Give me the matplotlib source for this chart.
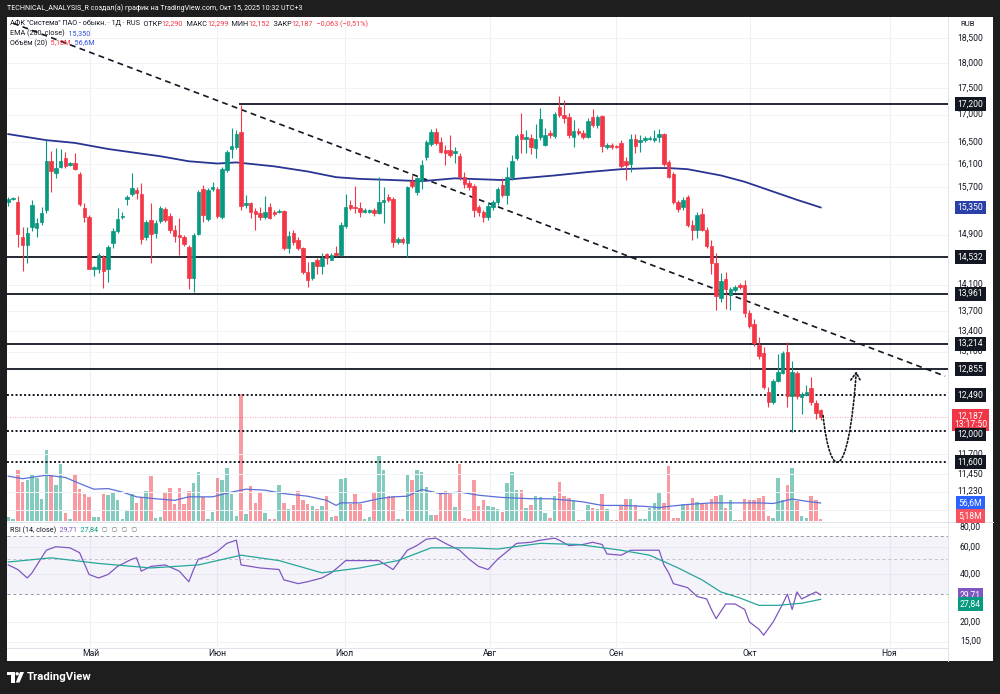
import matplotlib
matplotlib.use("Agg")
import matplotlib.pyplot as plt
import numpy as np
from matplotlib.patches import Rectangle, Polygon, Ellipse, FancyArrowPatch
from matplotlib.path import Path
from matplotlib.lines import Line2D

plt.rcParams['font.family'] = ['Roboto', 'DejaVu Sans']

# ---------------- data ----------------
opens = [15.45, 15.50, 15.45, 14.86, 14.73, 15.03, 15.00, 15.11, 15.31, 16.15,
         15.95, 16.05, 16.21, 16.08, 16.12, 15.93, 15.34, 15.19, 14.34, 14.34,
         14.53, 14.35, 14.76, 14.96, 15.19, 15.50, 15.58, 15.65, 15.58, 14.86,
         15.14, 14.93, 15.12, 15.33, 15.21, 14.98, 14.89, 14.86, 14.70, 14.21,
         14.91, 15.67, 15.16, 15.67, 15.67, 15.19, 16.00, 16.37, 16.41, 16.68,
         15.40, 15.43, 15.29, 15.26, 15.19, 15.36, 15.28, 15.28, 15.29, 14.68,
         14.93, 14.81, 14.68, 14.30, 14.21, 14.49, 14.40, 14.58, 14.49, 14.60,
         14.57, 15.04, 15.40, 15.36, 15.34, 15.28, 15.28, 15.31, 15.26, 15.45,
         15.53, 15.50, 14.78, 14.83, 14.76, 15.80, 15.62, 15.80, 16.22, 16.46,
         16.68, 16.50, 16.35, 16.35, 16.30, 16.24, 15.87, 15.77, 15.72, 15.36,
         15.28, 15.19, 15.36, 15.45, 15.74, 15.57, 15.87, 16.21, 16.64, 16.55,
         16.57, 16.39, 16.58, 16.45, 16.66, 16.61, 17.14, 16.99, 16.96, 16.59,
         16.70, 16.66, 16.59, 16.96, 16.81, 16.97, 16.41, 16.44, 16.43, 16.48,
         16.15, 16.11, 16.55, 16.50, 16.53, 16.55, 16.53, 16.59, 16.64, 16.13,
         15.92, 15.45, 15.36, 15.53, 15.06, 14.98, 15.24, 14.98, 14.71, 14.44,
         13.90, 14.19, 13.94, 14.01, 14.09, 14.10, 13.67, 13.50, 13.19, 13.08,
         12.53, 12.39, 12.68, 12.79, 13.09, 12.47, 12.79, 12.46, 12.49, 12.58,
         12.38, 12.290]
highs = [15.53, 15.53, 15.55, 15.03, 15.03, 15.48, 15.17, 15.36, 16.53, 16.33,
         16.39, 16.37, 16.32, 16.13, 16.30, 15.96, 15.43, 15.22, 14.40, 14.60,
         14.57, 14.73, 15.00, 15.34, 15.28, 15.57, 15.95, 15.70, 15.77, 15.14,
         15.43, 15.14, 15.38, 15.36, 15.26, 15.05, 15.17, 14.89, 14.73, 14.93,
         15.65, 15.74, 15.68, 15.79, 15.70, 16.05, 16.35, 16.75, 16.72, 17.18,
         15.57, 15.45, 15.34, 15.36, 15.55, 15.43, 15.31, 15.33, 15.31, 14.95,
         14.98, 14.86, 14.70, 14.45, 14.46, 14.52, 14.60, 14.60, 14.60, 14.71,
         15.11, 15.58, 15.48, 15.72, 15.45, 15.34, 15.33, 15.34, 15.87, 15.70,
         15.58, 15.52, 14.86, 14.86, 15.72, 15.91, 15.87, 16.17, 16.53, 16.74,
         16.76, 16.59, 16.44, 16.63, 16.41, 16.30, 15.96, 15.82, 15.75, 15.40,
         15.31, 15.45, 15.48, 15.70, 15.86, 16.05, 16.26, 16.64, 17.03, 16.72,
         16.64, 16.83, 17.12, 16.76, 16.72, 17.05, 17.35, 17.28, 17.03, 16.90,
         16.75, 16.72, 16.94, 17.11, 17.00, 17.00, 16.48, 16.48, 16.45, 16.53,
         16.22, 16.64, 16.64, 16.62, 16.60, 16.60, 16.72, 16.74, 16.66, 16.17,
         15.96, 15.48, 15.53, 15.57, 15.14, 15.28, 15.34, 15.03, 14.81, 14.60,
         14.29, 14.30, 14.07, 14.09, 14.12, 14.18, 13.72, 13.57, 13.31, 13.17,
         12.60, 12.71, 13.06, 13.11, 13.24, 12.97, 12.82, 12.53, 12.63, 12.74,
         12.42, 12.299]
lows = [15.38, 15.48, 14.70, 14.31, 14.44, 14.95, 14.86, 15.06, 15.26, 15.62,
        15.86, 16.03, 16.03, 16.07, 16.00, 15.38, 15.11, 14.34, 14.23, 14.28,
        14.05, 14.14, 14.68, 14.93, 15.16, 15.40, 15.55, 15.50, 14.75, 14.81,
        14.44, 14.85, 15.09, 15.11, 14.93, 14.78, 14.57, 14.71, 14.03, 13.98,
        14.90, 15.11, 15.13, 15.63, 15.18, 15.16, 15.96, 16.21, 16.37, 15.31,
        15.34, 15.17, 14.98, 15.14, 15.16, 15.16, 15.21, 15.26, 14.65, 14.60,
        14.73, 14.65, 14.27, 14.06, 14.18, 14.27, 14.27, 14.43, 14.48, 14.55,
        14.55, 15.01, 15.31, 15.26, 15.19, 15.26, 15.26, 15.21, 15.24, 15.09,
        15.45, 14.70, 14.75, 14.75, 14.53, 15.68, 15.57, 15.67, 16.17, 16.43,
        16.45, 16.30, 16.08, 16.22, 16.12, 15.82, 15.68, 15.65, 15.19, 15.21,
        15.11, 15.14, 15.31, 15.40, 15.53, 15.41, 15.82, 16.17, 16.30, 16.30,
        16.28, 16.21, 16.53, 16.43, 16.57, 16.57, 16.96, 16.84, 16.57, 16.41,
        16.62, 16.55, 16.57, 16.77, 16.75, 16.32, 16.37, 16.37, 16.39, 16.03,
        15.82, 15.96, 16.30, 16.32, 16.50, 16.53, 16.50, 16.50, 16.07, 15.85,
        15.41, 15.28, 15.31, 15.03, 14.81, 14.85, 14.95, 14.68, 14.27, 13.72,
        13.84, 13.73, 13.72, 13.98, 14.04, 13.61, 13.45, 13.18, 12.99, 12.57,
        12.33, 12.36, 12.67, 12.78, 12.33, 11.99, 12.43, 12.23, 12.48, 12.35,
        12.16, 12.152]
closes = [15.50, 15.51, 14.91, 14.73, 14.93, 15.40, 15.09, 15.26, 16.15, 15.98,
          16.03, 16.15, 16.07, 16.12, 16.02, 15.41, 15.19, 14.35, 14.37, 14.57,
          14.31, 14.70, 14.96, 15.16, 15.21, 15.53, 15.68, 15.60, 14.83, 15.11,
          14.91, 15.09, 15.34, 15.14, 14.98, 14.88, 14.86, 14.75, 14.21, 14.89,
          15.62, 15.22, 15.65, 15.70, 15.21, 16.01, 16.31, 16.43, 16.64, 15.38,
          15.43, 15.28, 15.24, 15.19, 15.28, 15.17, 15.24, 15.29, 14.68, 14.88,
          14.78, 14.68, 14.30, 14.18, 14.45, 14.40, 14.52, 14.52, 14.57, 14.57,
          15.06, 15.36, 15.34, 15.34, 15.28, 15.31, 15.31, 15.26, 15.45, 15.48,
          15.48, 14.78, 14.83, 14.78, 15.70, 15.72, 15.85, 16.09, 16.50, 16.67,
          16.48, 16.32, 16.30, 16.26, 16.33, 15.87, 15.75, 15.70, 15.31, 15.28,
          15.19, 15.38, 15.45, 15.67, 15.57, 15.87, 16.15, 16.60, 16.55, 16.59,
          16.40, 16.55, 16.92, 16.63, 16.63, 17.01, 16.99, 16.94, 16.62, 16.70,
          16.66, 16.59, 16.88, 16.81, 16.96, 16.43, 16.44, 16.41, 16.41, 16.07,
          16.09, 16.55, 16.43, 16.53, 16.57, 16.57, 16.57, 16.64, 16.11, 15.87,
          15.45, 15.33, 15.48, 15.06, 14.98, 15.22, 14.98, 14.71, 14.44, 13.92,
          14.16, 14.03, 14.03, 14.06, 14.07, 13.66, 13.48, 13.22, 13.03, 12.60,
          12.39, 12.68, 12.81, 13.08, 12.47, 12.81, 12.47, 12.50, 12.53, 12.39,
          12.25, 12.187]
volumes = [12.6, 5.3, 161.7, 122.9, 128.1, 146.0, 136.5, 69.3, 222.6, 149.1,
           112.4, 180.6, 25.2, 7.4, 149.1, 101.9, 86.1, 75.6, 12.6, 12.6,
           84.0, 83.0, 90.3, 65.1, 7.4, 31.5, 86.1, 56.7, 75.6, 94.5,
           142.8, 9.5, 12.6, 88.2, 104.0, 54.6, 105.0, 52.5, 94.5, 120.8,
           153.3, 75.6, 7.4, 28.4, 136.5, 128.1, 168.0, 84.0, 14.7, 399.0,
           23.1, 111.3, 56.7, 88.2, 25.2, 6.3, 5.3, 114.5, 56.7, 38.9,
           49.4, 94.5, 66.2, 54.6, 46.2, 38.9, 46.2, 77.7, 12.6, 14.7,
           133.4, 136.5, 52.5, 86.1, 54.6, 5.3, 12.6, 88.2, 205.8, 159.6,
           79.8, 79.8, 7.4, 7.4, 143.9, 128.1, 159.6, 155.4, 107.1, 18.9,
           18.9, 84.0, 94.5, 84.0, 44.1, 178.5, 9.5, 7.4, 130.2, 48.3,
           65.1, 47.3, 44.1, 38.9, 27.3, 119.7, 155.4, 98.7, 96.6, 42.0,
           49.4, 77.7, 75.6, 26.3, 10.5, 77.7, 123.9, 77.7, 73.5, 65.1,
           4.2, 4.2, 49.4, 42.0, 38.9, 84.0, 38.9, 4.2, 4.2, 49.4,
           70.4, 70.4, 49.4, 7.4, 7.4, 42.0, 56.7, 90.3, 56.7, 172.2,
           10.5, 9.5, 54.6, 54.6, 71.4, 60.9, 54.6, 54.6, 70.4, 79.8,
           81.9, 42.0, 67.2, 4.2, 4.2, 70.4, 67.2, 65.1, 73.5, 77.7,
           14.7, 10.5, 134.4, 65.1, 114.5, 165.9, 63.0, 14.7, 10.5, 79.8,
           67.2, 5.18]

vma_x = [0, 3, 8, 12, 15, 18, 21, 24, 27, 31, 35, 38, 43, 47, 50, 54, 58, 63, 67,
         69, 70, 74, 78, 81, 84, 87, 91, 95, 99, 104, 110, 114, 118, 121, 125,
         129, 134, 137, 139, 143, 148, 152, 158, 161, 165, 168, 171]
vma_v = [141, 133, 144, 137, 118, 100, 102, 91, 76, 70, 65, 76, 76, 91, 100, 97, 86,
         78, 65, 49, 57, 57, 70, 76, 78, 99, 86, 91, 81, 74, 70, 70, 65, 60, 49,
         49, 46, 42, 46, 52, 57, 57, 57, 55, 69, 62, 56.6]

ema_x = [0, 8, 14, 21, 26, 32, 38, 44, 48, 56, 63, 69, 74, 81, 87, 94, 104, 108,
         115, 122, 129, 136, 139, 143, 150, 155, 161, 166, 171]
ema_v = [16.64, 16.53, 16.48, 16.37, 16.31, 16.24, 16.15, 16.11, 16.13, 16.06,
         15.97, 15.87, 15.84, 15.82, 15.80, 15.85, 15.82, 15.85, 15.90, 15.96,
         16.01, 16.03, 16.03, 16.01, 15.90, 15.79, 15.62, 15.48, 15.35]

rsi_x = [0, 2, 4, 5, 8, 10, 13, 15, 16, 17, 19, 21, 23, 26, 27, 28, 30, 33, 36,
         38, 39, 40, 42, 44, 46, 48, 49, 51, 53, 57, 58, 61, 63, 66, 68, 70, 71,
         74, 78, 81, 84, 86, 88, 90, 92, 95, 97, 99, 101, 103, 105, 107, 110,
         112, 115, 116, 118, 121, 123, 125, 126, 129, 131, 134, 137, 138, 139,
         140, 143, 145, 147, 148, 149, 151, 153, 155, 156, 158, 159, 161, 163,
         164, 165, 166, 167, 169, 170, 171]
rsi_v = [46, 43, 38, 41, 57, 60, 59, 55, 47, 40, 38, 40, 45, 50, 51, 42, 45, 46, 42,
         36, 43, 50, 52, 56, 63, 66, 46, 45, 44, 43, 37, 35, 36, 38, 41, 46, 49,
         49, 49, 43, 57, 61, 67, 68, 63, 57, 50, 45, 43, 50, 56, 63, 64,
         66, 68, 66, 61, 62, 64, 62, 54, 53, 57, 57, 57, 46, 41,
         35, 33, 29, 28, 24, 21, 26, 26, 24, 20, 18, 16.5, 20, 26,
         30, 24, 31, 28, 30, 31, 29.71]
rsima_x = [0, 9, 19, 30, 40, 49, 57, 66, 74, 82, 89, 97, 103, 112, 120, 129, 135,
           141, 146, 150, 154, 158, 162, 167, 171]
rsima_v = [48, 51, 47, 44, 46, 53, 49, 41, 44, 49, 59, 59, 58, 63, 62, 57, 53,
           44, 37, 31, 28.4, 25.5, 25.5, 26.3, 27.84]

month_labels = ['Май', 'Июн', 'Июл', 'Авг', 'Сен', 'Окт', 'Ноя']
month_pos = [17.3, 43.9, 70.8, 101.4, 128.0, 156.1, 185.5]

price_ticks = [18.5, 18.0, 17.5, 17.0, 16.5, 16.1, 15.7, 14.9, 14.1, 13.7, 13.4,
               13.1, 11.7, 11.45, 11.23, 11.01]
top_level = 17.2
top_level_start = 48.5
solid_levels = [14.532, 13.961, 13.214, 12.855]
dotted_levels = [12.49, 12.0, 11.6]
last_price = 12.187
ema_last = 15.35
vol_last = 5.18
vma_last = 56.6
rsi_last = 29.71
rsima_last = 27.84
rsi_ticks = [80, 60, 40, 20, 15]

trend_x = [1.0, 197.2]
trend_y = [18.80, 12.75]
fc_x = [171.5, 173.0, 176.8, 178.5]
fc_y = [12.21, 11.35, 11.30, 12.82]

# ---------------- figure ----------------
W, H = 1000, 694
GREEN = '#089981'
RED = '#f23645'
DARK = '#131722'
EMA_C = '#283593'
fig = plt.figure(figsize=(W / 100, H / 100), dpi=100, facecolor='#1e1e1e')


def fx(px):
    return px / W


def fy(py):
    return 1 - py / H


fig.add_artist(Rectangle((fx(7), fy(661)), fx(993) - fx(7), fy(17) - fy(661),
                         transform=fig.transFigure, facecolor='white',
                         edgecolor='none', zorder=-10))

L, R = 7, 948
ax = fig.add_axes([fx(L), fy(521), fx(R) - fx(L), fy(17) - fy(521)])
axv = fig.add_axes([fx(L), fy(521), fx(R) - fx(L), fy(17) - fy(521)], sharex=ax)
axr = fig.add_axes([fx(L), fy(647), fx(R) - fx(L), fy(522) - fy(647)], sharex=ax)
axv.set_zorder(1)
ax.set_zorder(2)
axr.set_zorder(1)
ax.patch.set_alpha(0)
axv.patch.set_facecolor('white')
axr.patch.set_facecolor('white')

for a in (ax, axv, axr):
    for s in a.spines.values():
        s.set_visible(False)

ax.set_yscale('log')
axr.set_yscale('log')
for a in (ax, axv, axr):
    a.tick_params(which='both', left=False, right=False, bottom=False, top=False,
                  labelleft=False, labelbottom=False, labelright=False, labeltop=False)

ax.set_xlim(-0.27, 197.8)
ax.set_ylim(10.872, 18.928)
axv.set_ylim(0, 1585)
axr.set_ylim(13.88, 86.06)

# grid
for m in month_pos:
    axv.axvline(m, color='#eef0f5', lw=0.8, zorder=0)
    axr.axvline(m, color='#eef0f5', lw=0.8, zorder=0)
for t in price_ticks:
    ax.axhline(t, color='#f2f3f7', lw=0.7, zorder=0)
for t in rsi_ticks:
    axr.axhline(t, color='#f2f3f7', lw=0.7, zorder=0)

n = len(closes)
idx = np.arange(n)
o = np.array(opens)
c = np.array(closes)
h = np.array(highs)
lo = np.array(lows)
up = c >= o
cols = np.where(up, GREEN, RED)

# volume
vcols = [(8 / 255, 153 / 255, 129 / 255, 0.5) if u else (242 / 255, 54 / 255, 69 / 255, 0.5) for u in up]
axv.bar(idx, volumes, width=0.75, color=vcols, zorder=2)
axv.plot(vma_x, vma_v, color='#5b6fd9', lw=0.9, zorder=3)

# levels
ax.hlines(top_level, top_level_start, 197.8, color=DARK, lw=1.3, zorder=2)
for lv in solid_levels:
    ax.axhline(lv, color=DARK, lw=1.3, zorder=2)
for lv in dotted_levels:
    ax.axhline(lv, color=DARK, lw=1.4, ls=(0, (1, 1.2)), zorder=2)
ax.axhline(last_price, color=RED, lw=0.6, ls=(0, (1, 2)), alpha=0.6, zorder=2)

# trend line
ax.plot(trend_x, trend_y, color=DARK, lw=1.2, ls=(0, (3.5, 2.6)), zorder=2)

# EMA
ax.plot(ema_x, ema_v, color=EMA_C, lw=1.3, zorder=2.5)

# candles
ax.vlines(idx, lo, h, colors=cols, lw=0.8, zorder=3)
ax.bar(idx, np.abs(c - o), bottom=np.minimum(o, c), width=0.72, color=cols,
       edgecolor=cols, linewidth=0.5, zorder=4)

# forecast arrow
fpath = Path(list(zip(fc_x, fc_y)), [Path.MOVETO, Path.CURVE4, Path.CURVE4, Path.CURVE4])
arr = FancyArrowPatch(path=fpath, arrowstyle='->,head_length=0.55,head_width=0.35',
                      mutation_scale=10, lw=1.2, ls=(0, (1, 1.3)), color=DARK, zorder=5)
ax.add_patch(arr)

# RSI
axr.axhspan(30, 70, color='#7e57c2', alpha=0.07, lw=0, zorder=0.5)
for lv, al in ((70, 1.0), (50, 0.55), (30, 1.0)):
    axr.axhline(lv, color='#9598a1', lw=0.7, ls=(0, (3, 3)), alpha=al, zorder=1)
axr.plot(rsi_x, rsi_v, color='#7e57c2', lw=0.9, zorder=3)
axr.plot(rsima_x, rsima_v, color='#26a69a', lw=0.9, zorder=3)

# separators
fig.add_artist(Line2D([fx(7), fx(993)], [fy(521.5), fy(521.5)], transform=fig.transFigure,
                      color='#e0e3eb', lw=0.7, zorder=5))
fig.add_artist(Line2D([fx(948), fx(948)], [fy(17), fy(661)], transform=fig.transFigure,
                      color='#e0e3eb', lw=0.7, zorder=5))
fig.add_artist(Line2D([fx(7), fx(948)], [fy(647.5), fy(647.5)], transform=fig.transFigure,
                      color='#e0e3eb', lw=0.7, zorder=5))

# ---------------- text ----------------
renderer = fig.canvas.get_renderer()
FS = 6.2


def fmt3(v):
    return f"{v:.3f}".replace('.', ',')


def ydisp(a, v):
    return a.transData.transform((0, v))[1]


def rlabel(a, v, s, fc=None, tc=DARK, dy=0.0, fs=FS, ls=1.0, z=10):
    kw = dict(fontsize=fs, ha='center', va='center', color=tc, linespacing=ls, zorder=z)
    if fc:
        kw['bbox'] = dict(boxstyle='square,pad=0.28', fc=fc, ec='none')
    fig.text(fx(970.5), (ydisp(a, v) + dy) / H, s, **kw)


for t in price_ticks:
    rlabel(ax, t, fmt3(t), z=9)
rlabel(ax, top_level, fmt3(top_level), fc=DARK, tc='white')
rlabel(ax, ema_last, fmt3(ema_last), fc='#2a3fa8', tc='white')
rlabel(ax, last_price, fmt3(last_price) + "\n13:17:50", fc='#f23645', tc='white',
       dy=-3.0, ls=0.82, z=10)
for lv in solid_levels + dotted_levels:
    shift = -3.2 if lv == 12.0 else 0.0
    rlabel(ax, lv, fmt3(lv), fc=DARK, tc='white', dy=shift, z=11)
rlabel(axv, vma_last, "56,6M", fc='#2962ff', tc='white', z=11)
rlabel(axv, vol_last, "5,18M", fc='#f7525f', tc='white', dy=3, z=12)
for t in rsi_ticks:
    rlabel(axr, t, f"{t:.2f}".replace('.', ','))
rlabel(axr, rsi_last, "29,71", fc='#7e57c2', tc='white')
rlabel(axr, rsima_last, "27,84", fc='#089981', tc='white', dy=-5)
fig.text(fx(968), fy(24), "RUB", fontsize=5.6, color=DARK, ha='center', va='center')

# month labels
for m, lab in zip(month_pos, month_labels):
    xd = ax.transData.transform((m, 15))[0]
    fig.text(xd / W, fy(654), lab, fontsize=FS, color=DARK, ha='center', va='center')


def segments(x_px, y_px, parts, size):
    x = x_px
    for s, col in parts:
        t = fig.text(fx(x), fy(y_px), s, color=col, fontsize=size, ha='left', va='center')
        x += t.get_window_extent(renderer).width
    return x


fig.text(fx(7), fy(8), "TECHNICAL_ANALYSIS_R создал(а) график на TradingView.com, Окт 15, 2025 10:32 UTC+3",
         color='white', fontsize=5.1, ha='left', va='center')

LFS = 5.2
segments(10, 24, [('АФК "Система" ПАО - обыкн. · 1Д · RUS', DARK), ('  ОТКР', DARK), ('12,290', RED),
                  ('  МАКС', DARK), ('12,299', RED), ('  МИН', DARK), ('12,152', RED),
                  ('  ЗАКР', DARK), ('12,187', RED), ('  −0,063 (−0,51%)', RED)], LFS)
segments(10, 33.5, [('EMA (200, close)', DARK), ('  15,350', '#2f54d8')], LFS)
segments(10, 43, [('Объём (20)', DARK), ('  5,18M', RED), ('  56,6M', '#2f54d8')], LFS)
segments(10, 530, [('RSI (14, close)', DARK), ('  29,71', '#7e57c2'), ('  27,84', '#089981'),
                   ('  ∅  ∅  ∅  ∅', '#787b86')], LFS)

# TradingView logo
fig.add_artist(Polygon([(fx(7), fy(672)), (fx(14.5), fy(672)), (fx(14.5), fy(682.5)),
                        (fx(11.3), fy(682.5)), (fx(11.3), fy(675.2)), (fx(7), fy(675.2))],
                       closed=True, transform=fig.transFigure, fc='white', ec='none'))
fig.add_artist(Ellipse((fx(17.2), fy(673.8)), 3.4 / W, 3.4 / H, transform=fig.transFigure,
                       fc='white', ec='none'))
fig.add_artist(Polygon([(fx(20.0), fy(672)), (fx(24.0), fy(672)), (fx(19.6), fy(682.5)),
                        (fx(15.8), fy(682.5))], closed=True, transform=fig.transFigure,
                       fc='white', ec='none'))
fig.text(fx(27), fy(677.5), "TradingView", color='white', fontsize=8.2, fontweight='bold',
         ha='left', va='center')

fig.savefig("out.png", dpi=100, facecolor=fig.get_facecolor())
